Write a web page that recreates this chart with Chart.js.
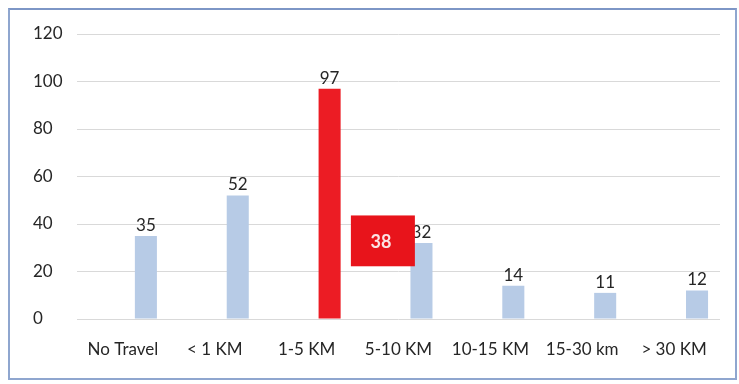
<!DOCTYPE html>
<html>
<head>
<meta charset="utf-8">
<script src="https://cdn.jsdelivr.net/npm/chart.js@4/dist/chart.umd.min.js"></script>
<style>
  html, body { margin: 0; padding: 0; background: #fff; }
  #wrap { position: relative; width: 739px; height: 384px; }
  #frame { position: absolute; left: 8px; top: 8px; width: 725px; height: 368px;
           border: 2px solid #8fa6cf; border-top-color: #7d96c6; pointer-events: none; }
</style>
</head>
<body>
<div id="wrap">
  <canvas id="travelChart" width="739" height="384"></canvas>
  <div id="frame"></div>
</div>
<script>
const categories = ['No Travel', '< 1 KM', '1-5 KM', '5-10 KM', '10-15 KM', '15-30 km', '> 30 KM'];
const respondents = [35, 52, 97, 32, 14, 11, 12];
const spacer = [null, null, null, null, null, null, null]; // empty first series, pushes bars right
const yTicks = [0, 20, 40, 60, 80, 100, 120];
const highlightIndex = 2;
const calloutValue = 38;

const barColors = respondents.map((v, i) => i === highlightIndex ? '#ec1c24' : '#b7cbe6');

const labelsPlugin = {
  id: 'barLabels',
  afterDatasetsDraw(chart) {
    const ctx = chart.ctx;
    const meta = chart.getDatasetMeta(1);
    ctx.save();
    ctx.font = '17px Lato, "Liberation Sans", sans-serif';
    ctx.fillStyle = '#262626';
    ctx.textAlign = 'center';
    ctx.textBaseline = 'bottom';
    meta.data.forEach((bar, i) => {
      ctx.fillText(String(respondents[i]), bar.x, bar.y - 2);
    });

    // red callout box between 1-5 KM and 5-10 KM
    const xs = chart.scales.x, ys = chart.scales.y;
    const cx = xs.getPixelForValue(2.83);
    const top = ys.getPixelForValue(43.6);
    const bottom = ys.getPixelForValue(22.2);
    const w = 64;
    ctx.fillStyle = '#e8141b';
    ctx.fillRect(cx - w / 2, top, w, bottom - top);
    ctx.fillStyle = '#fbe4e4';
    ctx.font = 'bold 18px Lato, "Liberation Sans", sans-serif';
    ctx.textBaseline = 'middle';
    ctx.fillText(String(calloutValue), cx - 2, (top + bottom) / 2 + 1);
    ctx.restore();
  }
};

new Chart(document.getElementById('travelChart').getContext('2d'), {
  type: 'bar',
  data: {
    labels: categories,
    datasets: [
      { label: '', data: spacer, backgroundColor: 'rgba(0,0,0,0)' },
      {
        label: 'Respondents',
        data: respondents,
        backgroundColor: barColors,
        categoryPercentage: 1.0,
        barPercentage: 0.48
      }
    ]
  },
  options: {
    responsive: false,
    animation: false,
    datasets: { bar: { categoryPercentage: 1.0, barPercentage: 0.48 } },
    layout: { padding: { left: 33, top: 34, right: 19, bottom: 0 } },
    plugins: { legend: { display: false }, tooltip: { enabled: false } },
    scales: {
      x: {
        grid: { display: false },
        border: { display: false },
        ticks: {
          color: '#262626',
          padding: 12,
          maxRotation: 0,
          autoSkip: false,
          font: { family: 'Lato, "Liberation Sans", sans-serif', size: 17 }
        },
        afterFit(axis) { axis.height = 65; }
      },
      y: {
        min: 0,
        max: 120,
        afterBuildTicks(axis) { axis.ticks = yTicks.map(v => ({ value: v })); },
        grid: { color: '#d9d9d9', drawTicks: false },
        border: { display: false },
        ticks: {
          color: '#262626',
          crossAlign: 'far',
          padding: 0,
          font: { family: 'Lato, "Liberation Sans", sans-serif', size: 17 }
        },
        afterFit(axis) { axis.width = 44; }
      }
    }
  },
  plugins: [labelsPlugin]
});
</script>
</body>
</html>
